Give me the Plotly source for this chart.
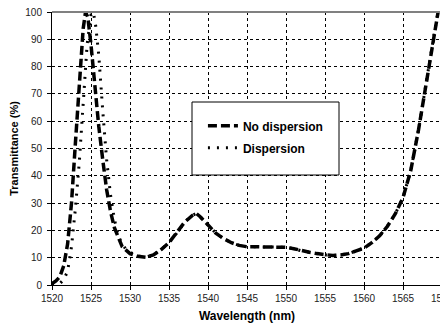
import plotly.graph_objects as go

# Data
wl_nodisp = [1520, 1520.5, 1521, 1521.5, 1522, 1522.5, 1523, 1523.5, 1524, 1524.3, 1524.6,
             1525, 1525.5, 1526, 1526.5, 1527, 1527.5, 1528, 1529, 1530, 1531, 1532, 1533,
             1534, 1535, 1536, 1537, 1538, 1538.5, 1539, 1540, 1541, 1542, 1543, 1544, 1545,
             1546, 1547, 1548, 1549, 1550, 1551, 1552, 1553, 1554, 1555, 1556, 1557, 1558,
             1559, 1560, 1561, 1562, 1563, 1564, 1565, 1566, 1567, 1568, 1569, 1569.5]
t_nodisp = [0.5, 1.5, 3, 7, 15, 30, 52, 75, 94, 100, 98,
            88, 72, 58, 46, 35, 27, 21, 14, 11.5, 10.5, 10.2, 11,
            13, 15.5, 19, 23, 25.5, 26.2, 25, 22, 19, 17, 15.5, 14.5, 14,
            14, 14, 14, 14, 13.8, 13.3, 12.5, 12, 11.5, 11, 10.8, 11, 11.5,
            12.5, 13.5, 15.5, 18, 21.5, 26, 32, 42, 57, 75, 92, 100]

wl_disp = [1520, 1521, 1521.5, 1522, 1522.5, 1523, 1523.5, 1524, 1524.5, 1525, 1525.3,
           1525.6, 1526, 1526.5, 1527, 1527.5, 1528, 1528.5, 1529, 1529.5, 1530, 1531,
           1532, 1533, 1534, 1535, 1536, 1537, 1538, 1538.5, 1539, 1540, 1541, 1542, 1543,
           1544, 1545, 1546, 1547, 1548, 1549, 1550, 1551, 1552, 1553, 1554, 1555, 1556,
           1557, 1558, 1559, 1560, 1561, 1562, 1563, 1564, 1565, 1566, 1567, 1568, 1569, 1569.5]
t_disp = [0, 0.5, 2, 5, 14, 28, 45, 68, 88, 99, 100,
          95, 84, 64, 46, 33, 24, 18, 15, 13, 12, 10.6,
          10.2, 11, 13, 15.5, 19, 23, 25.5, 26.2, 25, 22, 19, 17, 15.5,
          14.5, 14, 14, 14, 14, 14, 13.8, 13.3, 12.5, 12, 11.5, 11, 10.8,
          11, 11.5, 12.5, 13.5, 15.5, 18, 21.5, 26, 32, 42, 57, 75, 92, 100]

x_ticks = [1520, 1525, 1530, 1535, 1540, 1545, 1550, 1555, 1560, 1565, 1570]
y_ticks = [0, 10, 20, 30, 40, 50, 60, 70, 80, 90, 100]

fig = go.Figure()
fig.add_trace(go.Scatter(x=wl_nodisp, y=t_nodisp, mode="lines", name="No dispersion",
                         legendgroup="a",
                         line=dict(color="black", width=3.5, dash="9px,4px")))
fig.add_trace(go.Scatter(x=wl_disp, y=t_disp, mode="lines", name="Dispersion",
                         legendgroup="b",
                         line=dict(color="black", width=3, dash="2px,7px")))

font_family = "Liberation Sans, Arial, sans-serif"
# The page body adds an 8px margin, so the figure sits at (8, 8) in the 448x325 window.
fig.update_layout(
    width=440, height=317,
    margin=dict(l=44, r=6, t=4, b=40),
    paper_bgcolor="white", plot_bgcolor="white",
    font=dict(family=font_family, color="black"),
    showlegend=True,
    legend=dict(x=0.387, y=0.636, xanchor="left", yanchor="top",
                bgcolor="rgba(0,0,0,0)", borderwidth=0,
                font=dict(size=12, family=font_family, color="black", weight="bold"),
                itemwidth=30, tracegroupgap=3),
    xaxis=dict(range=[1520, 1570], tickvals=x_ticks, ticktext=[str(v) for v in x_ticks],
               showgrid=True, gridcolor="black", griddash="dot", gridwidth=1,
               showline=True, linecolor="black", linewidth=1,
               ticks="outside", ticklen=4, tickcolor="black",
               ticklabeloverflow="allow",
               tickfont=dict(size=10, color="#222"),
               title=dict(text="<b>Wavelength (nm)</b>", font=dict(size=12), standoff=8),
               zeroline=False, automargin=False),
    yaxis=dict(range=[0, 100], tickvals=y_ticks, ticktext=[str(v) for v in y_ticks],
               showgrid=True, gridcolor="black", griddash="dot", gridwidth=1,
               showline=True, linecolor="black", linewidth=1,
               ticks="outside", ticklen=4, tickcolor="black", ticklabelstandoff=3,
               ticklabeloverflow="allow",
               tickfont=dict(size=10, color="#222"),
               title=dict(text="<b>Transmittance (%)</b>", font=dict(size=11), standoff=7),
               zeroline=False, automargin=False),
)
# top border (gray) of plot area
fig.add_shape(type="line", xref="paper", yref="paper", x0=0, x1=1, y0=1, y1=1,
              line=dict(color="#808080", width=2))
# legend box
fig.add_shape(type="rect", xref="paper", yref="paper",
              x0=(192 - 52) / 390, x1=(339 - 52) / 390,
              y0=(285 - 175) / 273, y1=(285 - 102) / 273,
              line=dict(color="black", width=1), fillcolor="white", layer="above")

fig.write_html("out.html")
